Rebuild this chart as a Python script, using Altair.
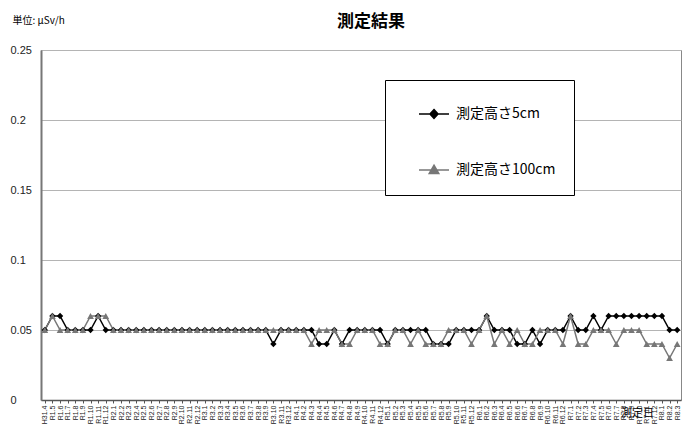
import altair as alt
import pandas as pd

months = [
    "H31.4", "R1.5", "R1.6", "R1.7", "R1.8", "R1.9", "R1.10", "R1.11", "R1.12",
    "R2.1", "R2.2", "R2.3", "R2.4", "R2.5", "R2.6", "R2.7", "R2.8", "R2.9", "R2.10", "R2.11", "R2.12",
    "R3.1", "R3.2", "R3.3", "R3.4", "R3.5", "R3.6", "R3.7", "R3.8", "R3.9", "R3.10", "R3.11", "R3.12",
    "R4.1", "R4.2", "R4.3", "R4.4", "R4.5", "R4.6", "R4.7", "R4.8", "R4.9", "R4.10", "R4.11", "R4.12",
    "R5.1", "R5.2", "R5.3", "R5.4", "R5.5", "R5.6", "R5.7", "R5.8", "R5.9", "R5.10", "R5.11", "R5.12",
    "R6.1", "R6.2", "R6.3", "R6.4", "R6.5", "R6.6", "R6.7", "R6.8", "R6.9", "R6.10", "R6.11", "R6.12",
    "R7.1", "R7.2", "R7.3", "R7.4", "R7.5", "R7.6", "R7.7", "R7.8", "R7.9", "R7.10", "R7.11", "R7.12",
    "R8.1", "R8.2", "R8.3",
]

height_5cm = [
    0.05, 0.06, 0.06, 0.05, 0.05, 0.05, 0.05, 0.06, 0.05,
    0.05, 0.05, 0.05, 0.05, 0.05, 0.05, 0.05, 0.05, 0.05, 0.05, 0.05, 0.05,
    0.05, 0.05, 0.05, 0.05, 0.05, 0.05, 0.05, 0.05, 0.05, 0.04, 0.05, 0.05,
    0.05, 0.05, 0.05, 0.04, 0.04, 0.05, 0.04, 0.05, 0.05, 0.05, 0.05, 0.05,
    0.04, 0.05, 0.05, 0.05, 0.05, 0.05, 0.04, 0.04, 0.04, 0.05, 0.05, 0.05,
    0.05, 0.06, 0.05, 0.05, 0.05, 0.04, 0.04, 0.05, 0.04, 0.05, 0.05, 0.05,
    0.06, 0.05, 0.05, 0.06, 0.05, 0.06, 0.06, 0.06, 0.06, 0.06, 0.06, 0.06,
    0.06, 0.05, 0.05,
]

height_100cm = [
    0.05, 0.06, 0.05, 0.05, 0.05, 0.05, 0.06, 0.06, 0.06,
    0.05, 0.05, 0.05, 0.05, 0.05, 0.05, 0.05, 0.05, 0.05, 0.05, 0.05, 0.05,
    0.05, 0.05, 0.05, 0.05, 0.05, 0.05, 0.05, 0.05, 0.05, 0.05, 0.05, 0.05,
    0.05, 0.05, 0.04, 0.05, 0.05, 0.05, 0.04, 0.04, 0.05, 0.05, 0.05, 0.04,
    0.04, 0.05, 0.05, 0.04, 0.05, 0.04, 0.04, 0.04, 0.05, 0.05, 0.05, 0.04,
    0.05, 0.06, 0.04, 0.05, 0.04, 0.05, 0.04, 0.04, 0.05, 0.05, 0.05, 0.04,
    0.06, 0.04, 0.04, 0.05, 0.05, 0.05, 0.04, 0.05, 0.05, 0.05, 0.04, 0.04,
    0.04, 0.03, 0.04,
]

series_names = ["測定高さ5cm", "測定高さ100cm"]
series_colors = ["#000000", "#777777"]
y_ticks = [0, 0.05, 0.1, 0.15, 0.2, 0.25]

n = len(months)
df = pd.DataFrame({
    "month": months * 2,
    "value": height_5cm + height_100cm,
    "series": [series_names[0]] * n + [series_names[1]] * n,
})

JP = "Noto Sans CJK JP"
LAT = "Liberation Sans"

x_enc = alt.X(
    "month:N", sort=months,
    scale=alt.Scale(type="point", padding=0.5),
    axis=alt.Axis(
        title="測定日", titleFont=JP, titleFontSize=11, titleFontWeight="normal",
        titleColor="#000", titleX=596, titleY=13, titleBaseline="middle",
        labelAngle=270, labelFont=LAT, labelFontSize=7, labelColor="#222",
        labelOverlap=False, labelPadding=2, labelBound=False,
        tickSize=3, tickColor="#555", domainColor="#555", domainWidth=1.5,
        grid=False,
    ),
)
y_enc = alt.Y(
    "value:Q",
    scale=alt.Scale(domain=[0, 0.25], nice=False, zero=True),
    axis=alt.Axis(
        values=y_ticks, format="~g",
        title="単位: μSv/h", titleFont=JP, titleFontSize=10, titleFontWeight="normal",
        titleColor="#000", titleAngle=0, titleAlign="left", titleBaseline="middle",
        titleX=-29, titleY=-30,
        labelFont=LAT, labelFontSize=11, labelColor="#222", labelAlign="left",
        labelPadding=31, ticks=False,
        grid=True, gridColor="#b4b4b4", gridWidth=1,
        domainColor="#777", domainWidth=2,
    ),
)

base = alt.Chart(df).encode(x=x_enc, y=y_enc)

s5 = f"datum.series === '{series_names[0]}'"
s100 = f"datum.series === '{series_names[1]}'"

line5 = base.transform_filter(s5).mark_line(color=series_colors[0], strokeWidth=1.5)
pt5 = base.transform_filter(s5).mark_point(shape="diamond", filled=True, color=series_colors[0], size=40, opacity=1)
line100 = base.transform_filter(s100).mark_line(color=series_colors[1], strokeWidth=1.5)
pt100 = base.transform_filter(s100).mark_point(shape="triangle-up", filled=True, color=series_colors[1], size=45, opacity=1)

diamond_sym = "M-1,0H1M0,-0.3L0.27,0L0,0.3L-0.27,0Z"
triangle_sym = "M-1,0H1M0,-0.32L0.32,0.24L-0.32,0.24Z"

legend_def = alt.Legend(title=None)

legend_layer = base.transform_filter("false").mark_point(filled=True, size=900, opacity=1, strokeWidth=1.5).encode(
    fill=alt.Fill("series:N", scale=alt.Scale(domain=series_names, range=series_colors), legend=legend_def),
    stroke=alt.Stroke("series:N", scale=alt.Scale(domain=series_names, range=series_colors), legend=legend_def),
    shape=alt.Shape("series:N", scale=alt.Scale(domain=series_names, range=[diamond_sym, triangle_sym]), legend=legend_def),
)

chart = alt.layer(line5, line100, pt5, pt100, legend_layer).properties(
    width=640,
    height=350,
    autosize=alt.AutoSizeParams(type="none"),
    padding={"left": 33, "top": 42, "right": 1, "bottom": 26},
    title=alt.TitleParams(
        text="測定結果", font=JP, fontSize=17, fontWeight="bold", color="#000",
        anchor="middle", offset=0, dx=10, dy=16,
    ),
    background="white",
).configure_view(
    stroke="#888", strokeWidth=1,
).configure_legend(
    orient="none", legendX=344, legendY=30,
    strokeColor="#000", fillColor="white", padding=18,
    rowPadding=32, symbolSize=900, symbolOffset=15, symbolStrokeWidth=1.5,
    labelFont=JP, labelFontSize=14, labelColor="#000", labelOffset=6, labelLimit=300,
)

chart.save("out.html", embed_options={"renderer": "svg", "actions": False})
